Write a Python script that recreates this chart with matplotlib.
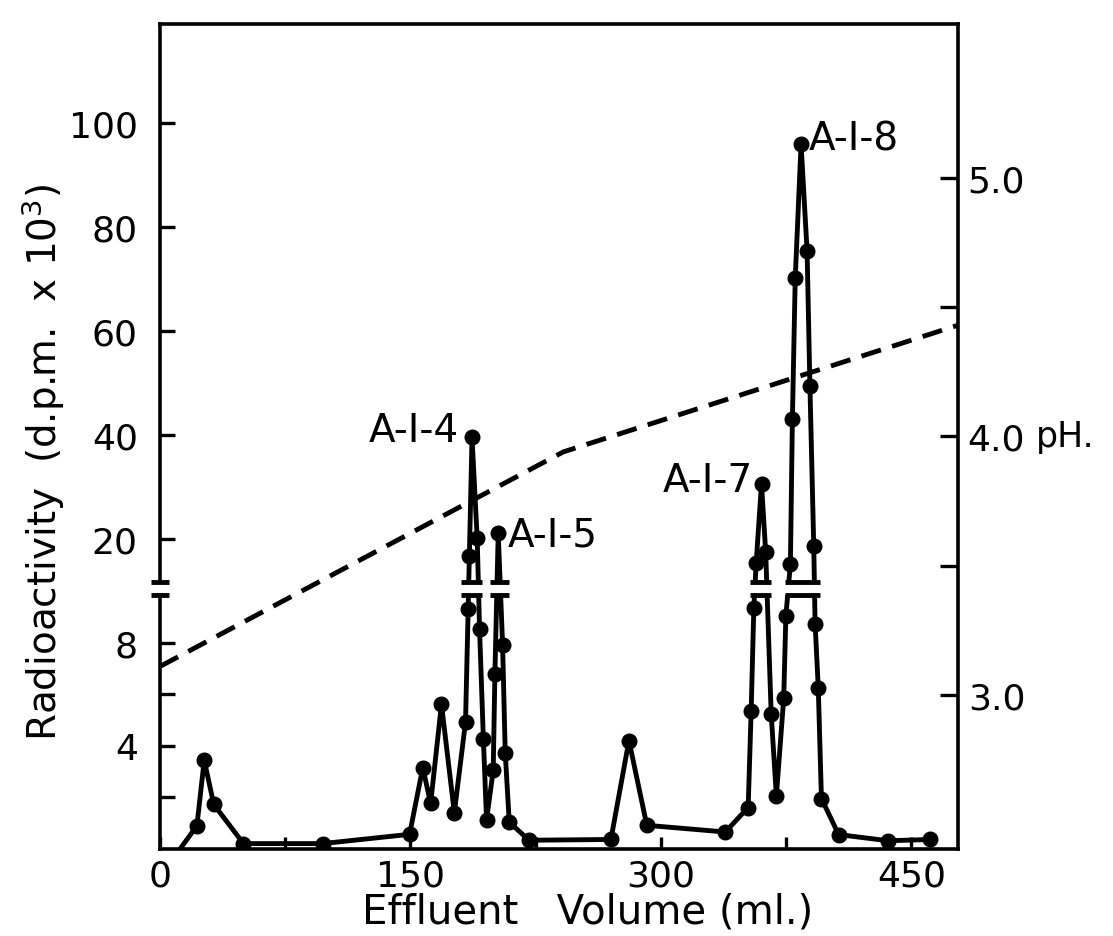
import matplotlib
matplotlib.use('Agg')
import matplotlib.pyplot as plt
import numpy as np
from matplotlib.transforms import blended_transform_factory

plt.rcParams['font.family'] = ['DejaVu Sans']

# ---------------- data ----------------
volume_ml = [12.0, 22.1, 26.5, 32.2, 50.0, 97.4, 149.5, 157.4, 162.1, 168.6,
             176.3, 183.0, 184.6, 185.3, 186.9, 190.0, 191.4, 193.7, 195.6, 199.6,
             200.6, 202.6, 205.2, 206.8, 209.2, 221.1, 270.1, 280.9, 291.6, 338.6,
             352.3, 354.1, 355.7, 357.1, 360.3, 362.8, 366.1, 369.2, 373.6, 374.9,
             377.6, 378.8, 380.5, 384.0, 387.6, 389.3, 391.6, 392.4, 394.3, 396.2,
             406.5, 436.1, 461.5]
radioactivity = [0.0, 0.90, 3.45, 1.73, 0.21, 0.21, 0.57, 3.16, 1.77, 5.62,
                 1.41, 4.93, 9.33, 16.8, 39.6, 20.2, 8.55, 4.27, 1.12, 3.06,
                 6.79, 21.2, 7.94, 3.73, 1.04, 0.34, 0.37, 4.21, 0.92, 0.66,
                 1.61, 5.36, 9.35, 15.5, 30.7, 17.6, 5.25, 2.06, 5.85, 9.06,
                 15.2, 43.1, 70.2, 96.0, 75.5, 49.5, 18.7, 8.75, 6.27, 1.96,
                 0.56, 0.32, 0.37]

ph_volume = [0.0, 241.6, 478.0]
ph_values = [3.11, 3.94, 4.43]

peak_names = ['A-I-4', 'A-I-5', 'A-I-7', 'A-I-8']
peak_label_x = [179.0, 208.5, 355.0, 388.5]
peak_label_y = [41.0, 21.0, 31.5, 97.0]
peak_label_ha = ['right', 'left', 'right', 'left']

# horizontal extents of the axis-break bars drawn across the peaks
break_x0 = [180.5, 197.5, 353.2, 374.3]
break_x1 = [193.0, 209.0, 365.8, 395.3]
break_low, break_high = 9.85, 11.9

x_ticks = [0, 75, 150, 225, 300, 375, 450]
x_ticklabels = ['0', '', '150', '', '300', '', '450']
y_ticks = [2, 4, 6, 8, 20, 40, 60, 80, 100]
y_ticklabels = ['', '4', '', '8', '20', '40', '60', '80', '100']
ph_ticks = [3.0, 3.5, 4.0, 4.5, 5.0]
ph_ticklabels = ['3.0', '', '4.0', '', '5.0']

# ---------------- broken (piecewise) y scale ----------------
R = 5.2 / 25.75  # upper-range compression relative to 0-10 range


def fwd(v):
    v = np.asarray(v, dtype=float)
    return np.where(v <= 10, v, 10 + (v - 10) * R)


def inv(t):
    t = np.asarray(t, dtype=float)
    return np.where(t <= 10, t, 10 + (t - 10) / R)


W, H = 1113, 937
fig = plt.figure(figsize=(W / 100, H / 100), dpi=100)
ax = fig.add_axes([160 / W, (H - 850) / H, 798 / W, 825 / H])
ax.set_yscale('function', functions=(fwd, inv))
ax.set_xlim(0, 478)
ax.set_ylim(0, 119.1)

LW = 3.5
ax.plot(volume_ml, radioactivity, color='black', lw=LW, zorder=3,
        solid_joinstyle='round')
ax.plot(volume_ml[1:], radioactivity[1:], 'o', color='black', ms=10.5, zorder=4)

# break marks on peaks
for x0, x1 in zip(break_x0, break_x1):
    ax.fill_between([x0, x1], break_low, break_high, color='white', lw=0, zorder=4.5)
    ax.plot([x0, x1], [break_low, break_low], color='black', lw=LW,
            solid_capstyle='butt', zorder=5)
    ax.plot([x0, x1], [break_high, break_high], color='black', lw=LW,
            solid_capstyle='butt', zorder=5)

# break marks on the left axis
trans = blended_transform_factory(ax.transAxes, ax.transData)
ax.plot([0, 0], [break_low, break_high], transform=trans, color='white', lw=6,
        clip_on=False, zorder=6, solid_capstyle='butt')
for yb in (break_low, break_high):
    ax.plot([-0.011, 0.011], [yb, yb], transform=trans, color='black', lw=LW,
            clip_on=False, zorder=7, solid_capstyle='butt')

for name, xl, yl, ha in zip(peak_names, peak_label_x, peak_label_y, peak_label_ha):
    ax.text(xl, yl, name, fontsize=28, ha=ha, va='center', zorder=8)

for s in ax.spines.values():
    s.set_linewidth(2.6)
ax.spines['right'].set_visible(False)

ax.set_xticks(x_ticks)
ax.set_xticklabels(x_ticklabels)
ax.set_yticks(y_ticks)
ax.set_yticklabels(y_ticklabels)
ax.tick_params(axis='x', direction='in', length=9, width=2.4, pad=7, labelsize=26)
ax.tick_params(axis='y', direction='in', length=11, width=2.4, pad=16, labelsize=26)

ax.set_xlabel('Effluent   Volume (ml.)', fontsize=29)
ax.xaxis.set_label_coords(0.536, -0.052)
ax.set_ylabel('Radioactivity  (d.p.m.  x 10$^3$)', fontsize=28)
ax.yaxis.set_label_coords(-0.116, 0.47)

# pH axis
ax2 = ax.twinx()
ax2.set_ylim(2.404, 5.595)
ax2.plot(ph_volume, ph_values, color='black', lw=LW, dashes=(4.2, 2.4),
         dash_capstyle='butt')
for k in ('left', 'top', 'bottom'):
    ax2.spines[k].set_visible(False)
ax2.spines['right'].set_linewidth(2.6)
ax2.set_yticks(ph_ticks)
ax2.set_yticklabels(ph_ticklabels)
ax2.tick_params(axis='y', direction='in', length=13, width=2.4, pad=7, labelsize=26)
trans2 = blended_transform_factory(ax2.transAxes, ax2.transData)
ax2.text(1.097, 4.0, 'pH.', transform=trans2, fontsize=25, ha='left', va='center')

fig.savefig('out.png', dpi=100)
